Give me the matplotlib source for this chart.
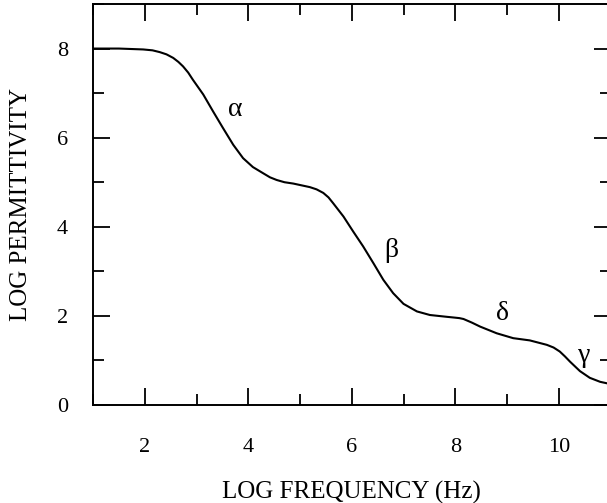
import matplotlib
matplotlib.use("Agg")
import matplotlib.pyplot as plt
from matplotlib.ticker import MultipleLocator

# curve points
log_freq = [1.0, 1.5, 1.97, 2.15, 2.29, 2.42, 2.55, 2.65, 2.74, 2.84, 2.93,
            3.13, 3.32, 3.51, 3.71, 3.90, 4.09, 4.29, 4.42, 4.55, 4.70,
            4.87, 5.19, 5.32, 5.45, 5.55, 5.64, 5.84, 6.03, 6.22, 6.42,
            6.61, 6.80, 7.00, 7.26, 7.51, 7.83, 8.00, 8.08, 8.16, 8.24,
            8.32, 8.48, 8.80, 9.12, 9.44, 9.77, 9.90, 10.02, 10.12, 10.22,
            10.41, 10.60, 10.80, 11.0]
log_perm = [8.0, 8.0, 7.98, 7.96, 7.92, 7.87, 7.79, 7.70, 7.60, 7.46, 7.30,
            6.97, 6.59, 6.22, 5.84, 5.54, 5.34, 5.20, 5.11, 5.05, 5.00,
            4.97, 4.89, 4.84, 4.76, 4.66, 4.53, 4.23, 3.89, 3.56, 3.18,
            2.81, 2.51, 2.27, 2.10, 2.02, 1.98, 1.96, 1.95, 1.93, 1.89,
            1.85, 1.76, 1.61, 1.50, 1.45, 1.35, 1.29, 1.20, 1.09, 0.97,
            0.76, 0.61, 0.52, 0.47]

labels = ["\u03b1", "\u03b2", "\u03b4", "\u03b3"]
label_x = [3.74, 6.77, 8.92, 10.50]
label_y = [6.63, 3.47, 2.05, 1.12]

plt.rcParams['font.family'] = ['Liberation Serif', 'DejaVu Serif']

fig = plt.figure(figsize=(6.07, 5.03), dpi=100)
ax = fig.add_axes([93/607, 98/503, 517.5/607, 401/503])

ax.plot(log_freq, log_perm, color='black', lw=1.5,
        solid_joinstyle='round', solid_capstyle='round')

for t, x, y in zip(labels, label_x, label_y):
    ax.text(x, y, t, fontsize=20, ha='center', va='center')

ax.set_xlim(1, 11)
ax.set_ylim(0, 9)
ax.xaxis.set_minor_locator(MultipleLocator(1))
ax.yaxis.set_minor_locator(MultipleLocator(1))
ax.set_xticks([2, 4, 6, 8, 10])
ax.set_yticks([0, 2, 4, 6, 8])

ax.tick_params(which='both', direction='in', top=True, right=True, width=1.3,
               labelsize=16, color='black')
ax.tick_params(axis='x', which='major', length=12, pad=24)
ax.tick_params(axis='x', which='minor', length=8)
ax.tick_params(axis='y', which='major', length=12, pad=18)
ax.tick_params(axis='y', which='minor', length=8)
for s in ax.spines.values():
    s.set_linewidth(1.4)

ax.set_xlabel("LOG FREQUENCY (Hz)", fontsize=18, labelpad=17)
ax.set_ylabel("LOG PERMITTIVITY", fontsize=18, labelpad=18)

fig.savefig("out.png", dpi=100)
